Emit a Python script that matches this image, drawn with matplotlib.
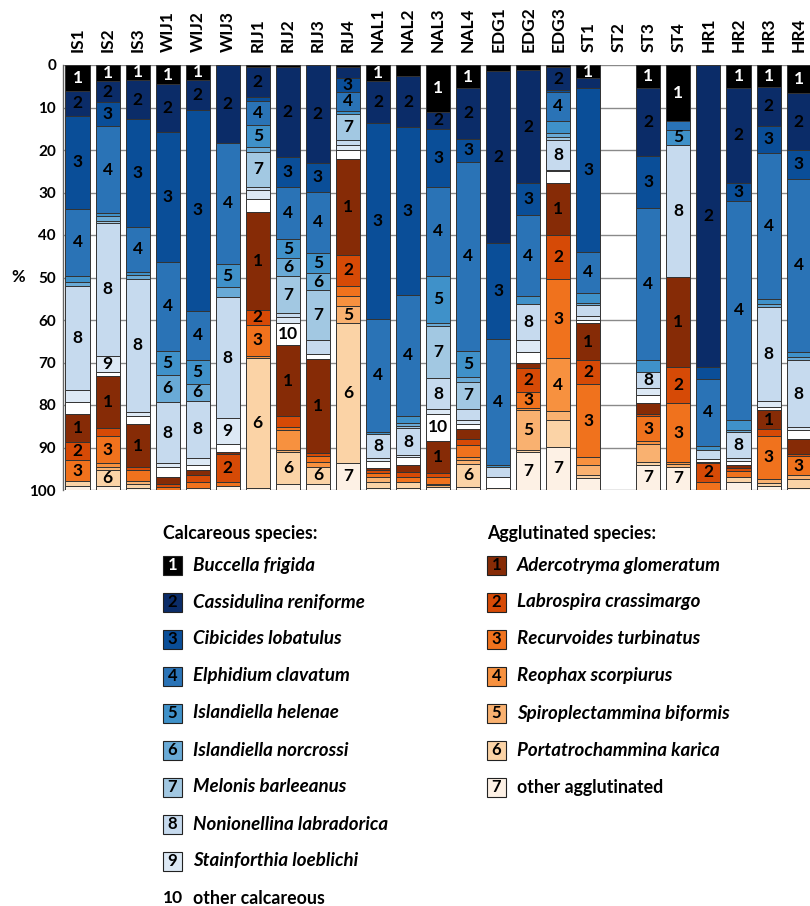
import matplotlib
matplotlib.use("Agg")
import matplotlib.pyplot as plt
from matplotlib.patches import Rectangle

plt.rcParams["font.family"] = ["Lato", "DejaVu Sans"]

# stations (columns), left to right
stations = ["IS1", "IS2", "IS3", "WIJ1", "WIJ2", "WIJ3", "RIJ1", "RIJ2", "RIJ3", "RIJ4",
            "NAL1", "NAL2", "NAL3", "NAL4", "EDG1", "EDG2", "EDG3", "ST1", "ST2", "ST3",
            "ST4", "HR1", "HR2", "HR3", "HR4"]

# calcareous species, % per station (same order as stations)
c1 = [6.0, 3.7, 3.5, 4.5, 3.5, 0, 0.5, 0.5, 0, 0.5, 3.8, 2.6, 11.0, 5.5, 1.4, 1.2, 0.5, 3.1, 0, 5.3, 13.1, 0, 5.3, 5.1, 6.7]
c2 = [5.9, 5.1, 9.3, 11.2, 7.1, 18.3, 7.1, 21.2, 23.0, 2.6, 9.8, 12.1, 4.1, 11.8, 40.4, 26.6, 5.4, 2.2, 0, 16.0, 0, 71.0, 22.5, 9.2, 13.3]
c3 = [22.0, 5.6, 25.4, 30.6, 47.2, 0, 0.8, 7.1, 6.8, 3.2, 46.2, 39.3, 13.5, 5.6, 22.7, 7.5, 0.4, 38.6, 0, 12.4, 0, 2.9, 4.1, 6.3, 6.8]
c4 = [15.7, 20.5, 10.4, 21.0, 11.5, 28.5, 5.6, 12.2, 14.5, 4.5, 26.5, 28.7, 21.0, 44.3, 29.5, 19.1, 6.9, 9.7, 0, 35.7, 2.2, 15.7, 51.6, 34.5, 40.7]
c5 = [1.5, 0.6, 0.9, 5.6, 5.8, 5.5, 5.2, 4.5, 4.6, 0.7, 0.6, 1.6, 11.0, 6.2, 0.5, 1.8, 2.9, 2.5, 0, 2.8, 3.5, 1.0, 2.4, 1.1, 1.1]
c6 = [1.0, 1.1, 0.9, 6.4, 3.9, 2.4, 1.3, 4.1, 4.1, 0, 0, 0.7, 0.9, 1.1, 0, 0, 0.8, 0.4, 0, 0, 0, 0, 0.4, 0.8, 0.9]
c7 = [0, 0.6, 0, 0, 0, 0, 8.1, 8.8, 11.7, 6.1, 0, 0.5, 12.2, 6.4, 0, 0, 0.7, 0, 0, 0, 0, 0, 0, 0, 0]
c8 = [24.4, 31.2, 31.2, 14.4, 13.4, 28.4, 0.8, 0.9, 3.3, 1.2, 5.6, 6.3, 7.2, 2.6, 2.5, 8.5, 7.1, 2.6, 0, 3.7, 31.0, 2.2, 6.1, 22.0, 15.7]
c9 = [2.9, 3.8, 1.1, 0.8, 1.7, 6.0, 2.2, 1.5, 0, 1.2, 0.7, 0.4, 1.1, 1.0, 0, 2.8, 0.3, 0.9, 0, 1.7, 0, 0, 0.7, 1.5, 0.7]
c10 = [2.6, 1.0, 1.7, 2.5, 1.2, 1.9, 3.1, 5.1, 1.2, 2.2, 1.6, 2.0, 6.5, 1.2, 2.5, 2.5, 2.7, 0.8, 0, 1.9, 0, 0.5, 1.0, 0.7, 2.2]

# agglutinated species, % per station
a1 = [6.8, 12.3, 10.3, 1.5, 1.2, 0.6, 22.9, 16.8, 22.0, 22.5, 0.5, 1.5, 7.6, 2.3, 0, 1.2, 12.3, 8.6, 0, 2.5, 21.2, 0.3, 0.7, 4.5, 3.4]
a2 = [4.1, 1.8, 0.6, 0.8, 1.5, 6.4, 3.6, 2.4, 0.8, 7.3, 0.7, 1.3, 0.9, 1.5, 0, 5.7, 10.4, 5.7, 0, 0.7, 8.5, 4.4, 0.7, 1.5, 0.5]
a3 = [5.1, 6.4, 2.7, 0.7, 1.5, 1.0, 7.2, 0.8, 1.5, 2.4, 1.0, 1.0, 1.5, 2.7, 0, 3.7, 18.6, 17.1, 0, 5.8, 14.0, 2.0, 1.5, 10.3, 4.5]
a4 = [0, 0.8, 0, 0, 0, 0, 0.6, 4.7, 1.0, 2.4, 0, 0, 0.4, 0.8, 0, 0.6, 12.4, 1.8, 0, 0.7, 0.4, 0, 0, 0, 0]
a5 = [0, 0.8, 0.5, 0, 0, 0, 0, 0.4, 0, 3.9, 1.0, 0, 0.4, 0.8, 0, 9.4, 2.1, 2.5, 0, 4.1, 0.6, 0, 0, 0.8, 1.0]
a6 = [1.0, 3.7, 1.0, 0, 0, 0, 30.5, 7.5, 4.0, 32.9, 1.5, 1.5, 0, 5.5, 0, 0.4, 6.3, 0.7, 0, 0.7, 0, 0, 1.0, 0.7, 2.0]
a7 = [1.0, 1.0, 0.5, 0, 0.5, 1.0, 0.5, 1.5, 1.5, 6.4, 0.5, 0.5, 0.7, 0.7, 0.5, 9.0, 10.2, 2.8, 0, 6.0, 5.5, 0, 2.0, 1.0, 0.5]

calc_names = ["Buccella frigida", "Cassidulina reniforme", "Cibicides lobatulus",
              "Elphidium clavatum", "Islandiella helenae", "Islandiella norcrossi",
              "Melonis barleeanus", "Nonionellina labradorica", "Stainforthia loeblichi",
              "other calcareous"]
agg_names = ["Adercotryma glomeratum", "Labrospira crassimargo", "Recurvoides turbinatus",
             "Reophax scorpiurus", "Spiroplectammina biformis", "Portatrochammina karica",
             "other agglutinated"]

calc_colors = ["#000000", "#0b2c68", "#0a4e98", "#2a73b6", "#3f91c9", "#69aad6",
               "#a2c8e2", "#c6daee", "#dde9f5", "#ffffff"]
agg_colors = ["#862b06", "#d64a06", "#f0721d", "#f7913f", "#f9b170", "#fbd3a6", "#fdf1e5"]

# segments whose number is drawn despite size / left blank despite size
force_label = {("RIJ4", "c3"), ("ST1", "c1")}
skip_label = {("RIJ2", "a4"), ("EDG3", "a6"), ("ST3", "a5")}

W, H = 810, 906


def fx(px):
    return px / W


def fy(py):
    return 1 - py / H


fig = plt.figure(figsize=(W / 100, H / 100), dpi=100, facecolor="white")
ax = fig.add_axes([fx(63), fy(490), fx(810) - fx(63), fy(65) - fy(490)])

groups = [("c", [c1, c2, c3, c4, c5, c6, c7, c8, c9, c10], calc_colors),
          ("a", [a1, a2, a3, a4, a5, a6, a7], agg_colors)]

for i, st in enumerate(stations):
    bottom = 0.0
    for prefix, series, colors in groups:
        for k, vals in enumerate(series):
            v = vals[i]
            if v <= 0:
                continue
            ax.bar(i, v, bottom=bottom, width=0.8, color=colors[k],
                   edgecolor="#333333", linewidth=0.7, zorder=3)
            key = (st, f"{prefix}{k + 1}")
            if (v >= 3.45 or key in force_label) and key not in skip_label:
                tc = "white" if (prefix == "c" and k == 0) else "black"
                ax.text(i, bottom + v / 2, str(k + 1), ha="center", va="center",
                        fontsize=12.5, fontweight="bold", color=tc, zorder=4)
            bottom += v

ax.set_xlim(-0.483, 24.38)
ax.set_ylim(100, 0)
ax.set_yticks(range(0, 101, 10))
ax.set_yticklabels([str(t) for t in range(0, 101, 10)], fontsize=11, fontweight="bold")
ax.yaxis.grid(True, color="#8a8a8a", linewidth=1.0)
ax.set_axisbelow(True)
ax.tick_params(axis="y", length=0, pad=5)

ax.xaxis.tick_top()
ax.set_xticks(range(len(stations)))
ax.set_xticklabels(stations, rotation=90, fontsize=12.5, fontweight="bold")
ax.tick_params(axis="x", length=0, pad=9)

for side in ["top", "right", "bottom"]:
    ax.spines[side].set_visible(False)
ax.spines["left"].set_color("#666666")
ax.spines["left"].set_linewidth(1.0)

fig.text(fx(18), fy(277), "%", fontsize=12, fontweight="bold", ha="center", va="center")

# legend
box = 19
row_h = 37
y0 = 565


def legend_block(x_box, x_text, title, names, colors, white_first):
    fig.text(fx(x_box), fy(533), title, fontsize=12.8, fontweight="bold",
             ha="left", va="center")
    for k, name in enumerate(names):
        yc = y0 + k * row_h
        last_plain = name.startswith("other")
        if colors[k] == "#ffffff":
            # 'other calcareous' has no box
            fig.text(fx(x_box), fy(yc), str(k + 1), fontsize=12.5, fontweight="bold",
                     ha="left", va="center")
        else:
            rect = Rectangle((fx(x_box), fy(yc + box / 2)), box / W, box / H,
                             transform=fig.transFigure, facecolor=colors[k],
                             edgecolor="#222222", linewidth=0.8)
            fig.add_artist(rect)
            tc = "white" if (white_first and k == 0) else "black"
            fig.text(fx(x_box + box / 2), fy(yc), str(k + 1), fontsize=12,
                     fontweight="bold", color=tc, ha="center", va="center")
        fig.text(fx(x_text), fy(yc), name, fontsize=12.8 if last_plain else 13.5,
                 fontweight="bold", fontstyle="normal" if last_plain else "italic",
                 ha="left", va="center")


legend_block(163, 193, "Calcareous species:", calc_names, calc_colors, True)
legend_block(487, 517, "Agglutinated species:", agg_names, agg_colors, False)

fig.savefig("out.png", dpi=100, facecolor="white")
